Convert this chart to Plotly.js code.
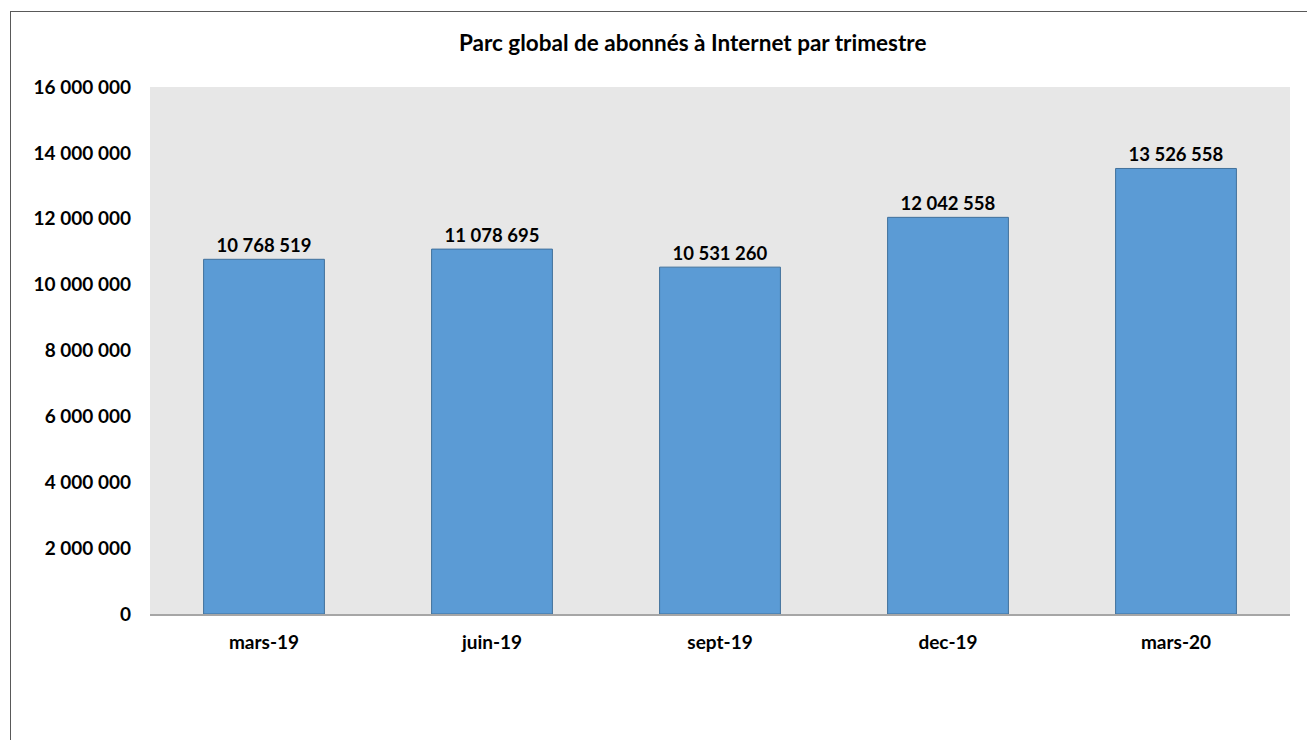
<!DOCTYPE html>
<html><head><meta charset="utf-8">
<script src="https://cdn.plot.ly/plotly-3.0.1.min.js"></script>
<style>body{margin:0;background:#fff}#wrap{position:relative;width:1307px;height:740px}#chart{width:1307px;height:740px}#frame{position:absolute;left:10px;top:11px;width:1400px;height:800px;border-left:1px solid #595959;border-top:1px solid #595959;pointer-events:none}</style>
</head><body><div id="wrap"><div id="chart"></div><div id="frame"></div></div>
<script>
const categories = ["mars-19", "juin-19", "sept-19", "dec-19", "mars-20"];
const subscribers = [10768519, 11078695, 10531260, 12042558, 13526558];
const yTicks = [0, 2000000, 4000000, 6000000, 8000000, 10000000, 12000000, 14000000, 16000000];

const font = "Lato, 'Open Sans', sans-serif";
Plotly.newPlot("chart", [{
  type: "bar",
  x: categories,
  y: subscribers,
  width: 0.53,
  marker: {color: "#5b9bd5", line: {color: "#41719c", width: 1}},
  texttemplate: "%{y:,.0f}",
  textposition: "outside",
  cliponaxis: false,
  textfont: {family: font, size: 18.5, color: "#000", weight: 700},
  hoverinfo: "x+y"
}], {
  width: 1307, height: 740,
  separators: ". ",
  margin: {l: 150, r: 17, t: 87, b: 126},
  paper_bgcolor: "#ffffff",
  plot_bgcolor: "#e7e7e7",
  title: {text: "<b>Parc global de abonnés à Internet par trimestre</b>", x: 0.53, xref: "container", xanchor: "center", y: 0.942, yanchor: "middle",
          font: {family: font, size: 22.5, color: "#000"}},
  xaxis: {showline: true, linecolor: "#a6a6a6", linewidth: 2, ticks: "", showgrid: false,
          tickfont: {family: font, size: 19, color: "#000", weight: 700}, ticklabelstandoff: 10},
  yaxis: {range: [0, 16000000], tickvals: yTicks, tickformat: ",.0f", showgrid: false, zeroline: false,
          showline: false, ticks: "", tickfont: {family: font, size: 19, color: "#000", weight: 700}, ticklabelstandoff: 18},
  showlegend: false,
  bargap: 0.47
}, {displayModeBar: false});
</script></body></html>
